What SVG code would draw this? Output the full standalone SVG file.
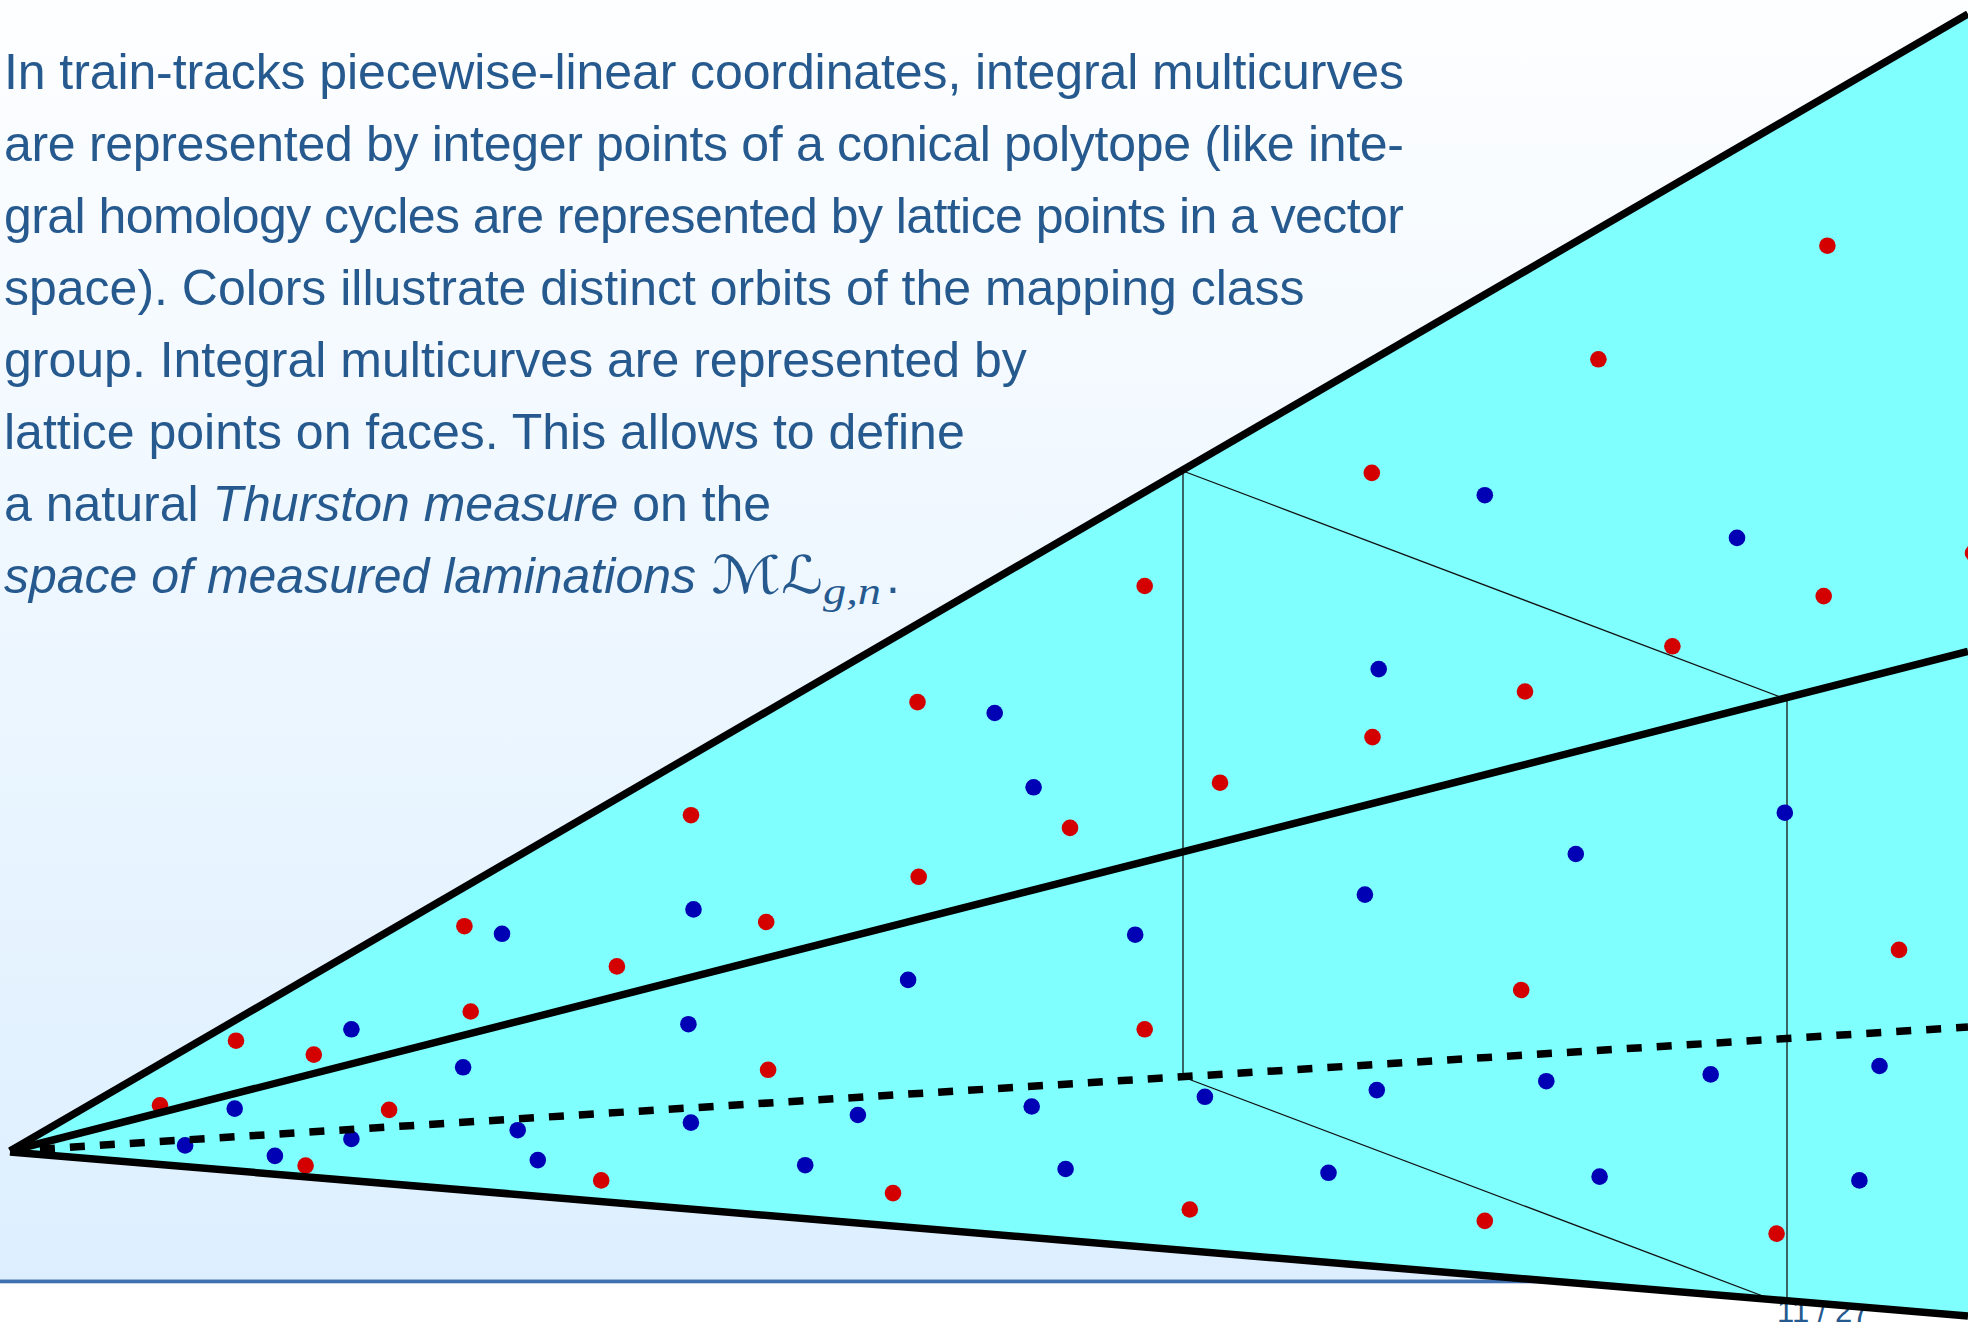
<svg xmlns="http://www.w3.org/2000/svg" width="1968" height="1324" viewBox="0 0 1968 1324">
<defs>
<linearGradient id="bg" x1="0" y1="0" x2="0" y2="1">
<stop offset="0" stop-color="#fdfeff"/>
<stop offset="1" stop-color="#ddefff"/>
</linearGradient>
<style>
.t{font-family:"Liberation Sans",Arial,sans-serif;font-size:50px;fill:#265a8f}
.i{font-style:italic}
.r{fill:#d40000}
.b{fill:#0000b4}
.thick{stroke:#000;stroke-width:7.5;fill:none}
.dash{stroke:#000;stroke-width:7.5;fill:none;stroke-dasharray:15 15}
.thin{stroke:#111;stroke-width:1.3;fill:none}
</style>
</defs>
<g id="background">
<rect x="0" y="0" width="1968" height="1324" fill="#ffffff"/>
<rect x="0" y="0" width="1968" height="1279.5" fill="url(#bg)"/>
<rect x="0" y="1279.5" width="1968" height="3.8" fill="#3f70b0"/>
</g>
<g id="caption">
<text class="t" x="4" y="89" textLength="1400" lengthAdjust="spacing">In train-tracks piecewise-linear coordinates, integral multicurves</text>
<text class="t" x="4" y="161" textLength="1400" lengthAdjust="spacing">are represented by integer points of a conical polytope (like inte-</text>
<text class="t" x="4" y="233" textLength="1400" lengthAdjust="spacing">gral homology cycles are represented by lattice points in a vector</text>
<text class="t" x="4" y="305">space). Colors illustrate distinct orbits of the mapping class</text>
<text class="t" x="4" y="377">group. Integral multicurves are represented by</text>
<text class="t" x="4" y="449">lattice points on faces. This allows to define</text>
<text class="t" x="4" y="521">a natural <tspan class="i">Thurston measure</tspan> on the</text>
<text class="t i" x="4" y="593">space of measured laminations</text>
<text class="t" x="711" y="593" textLength="70" lengthAdjust="spacingAndGlyphs" style="font-family:'DejaVu Serif','DejaVu Sans',serif;font-style:italic;font-size:52px">ℳ</text>
<text class="t" x="781" y="593" textLength="42" lengthAdjust="spacingAndGlyphs" style="font-family:'DejaVu Serif','DejaVu Sans',serif;font-style:italic;font-size:52px">ℒ</text>
<text class="t" x="823" y="604" textLength="58" lengthAdjust="spacingAndGlyphs" style="font-family:'Liberation Serif','Times New Roman',serif;font-style:italic;font-size:38px">g,n</text>
<text class="t" x="886" y="593">.</text>
</g>
<g id="page-number">
<text class="t" x="1777" y="1322" style="font-size:31px">11 / 27</text>
</g>
<g id="cone">
<path d="M10,1151 L1968,14 L1968,1316 Z" fill="#80ffff"/>
</g>
<g id="connectors">
<path class="thin" d="M1183,471 L1183,1077"/>
<path class="thin" d="M1183,471 L1784,698.4"/>
<path class="thin" d="M1787,698 L1787,1301"/>
<path class="thin" d="M1183,1077 L1772,1299.5"/>
</g>
<g id="red-points">
<circle class="r" cx="917.5" cy="702.1" r="8.3"/>
<circle class="r" cx="691" cy="815.2" r="8.3"/>
<circle class="r" cx="918.7" cy="876.8" r="8.3"/>
<circle class="r" cx="464.4" cy="926.2" r="8.3"/>
<circle class="r" cx="766.2" cy="922" r="8.3"/>
<circle class="r" cx="616.9" cy="966.4" r="8.3"/>
<circle class="r" cx="470.7" cy="1011.5" r="8.3"/>
<circle class="r" cx="236" cy="1040.7" r="8.3"/>
<circle class="r" cx="313.8" cy="1054.6" r="8.3"/>
<circle class="r" cx="768.1" cy="1069.8" r="8.3"/>
<circle class="r" cx="160" cy="1105.3" r="8.3"/>
<circle class="r" cx="389.1" cy="1109.9" r="8.3"/>
<circle class="r" cx="305.6" cy="1165.6" r="8.3"/>
<circle class="r" cx="601.2" cy="1180.4" r="8.3"/>
<circle class="r" cx="893" cy="1193.1" r="8.3"/>
<circle class="r" cx="1672.4" cy="646.3" r="8.3"/>
<circle class="r" cx="1525" cy="691.5" r="8.3"/>
<circle class="r" cx="1372.5" cy="737.1" r="8.3"/>
<circle class="r" cx="1220" cy="782.7" r="8.3"/>
<circle class="r" cx="1070" cy="827.9" r="8.3"/>
<circle class="r" cx="1899" cy="949.9" r="8.3"/>
<circle class="r" cx="1521.2" cy="990" r="8.3"/>
<circle class="r" cx="1144.7" cy="1029.3" r="8.3"/>
<circle class="r" cx="1189.8" cy="1209.5" r="8.3"/>
<circle class="r" cx="1484.8" cy="1220.9" r="8.3"/>
<circle class="r" cx="1776.6" cy="1233.6" r="8.3"/>
<circle class="r" cx="1827.4" cy="245.7" r="8.3"/>
<circle class="r" cx="1598.4" cy="359.3" r="8.3"/>
<circle class="r" cx="1371.8" cy="472.9" r="8.3"/>
<circle class="r" cx="1144.7" cy="586" r="8.3"/>
<circle class="r" cx="1823.7" cy="596.1" r="8.3"/>
<circle class="r" cx="1973" cy="553" r="8.3"/>
</g>
<g id="blue-points">
<circle class="b" cx="502" cy="933.8" r="8.3"/>
<circle class="b" cx="693.5" cy="909.4" r="8.3"/>
<circle class="b" cx="908.1" cy="979.9" r="8.3"/>
<circle class="b" cx="351.4" cy="1029.3" r="8.3"/>
<circle class="b" cx="688.4" cy="1024.2" r="8.3"/>
<circle class="b" cx="463.1" cy="1067.3" r="8.3"/>
<circle class="b" cx="234.7" cy="1108.6" r="8.3"/>
<circle class="b" cx="857.9" cy="1115" r="8.3"/>
<circle class="b" cx="690.9" cy="1122.6" r="8.3"/>
<circle class="b" cx="517.7" cy="1130.2" r="8.3"/>
<circle class="b" cx="351.4" cy="1139" r="8.3"/>
<circle class="b" cx="185.1" cy="1145.4" r="8.3"/>
<circle class="b" cx="274.9" cy="1155.9" r="8.3"/>
<circle class="b" cx="537.8" cy="1160.1" r="8.3"/>
<circle class="b" cx="805.2" cy="1165.2" r="8.3"/>
<circle class="b" cx="1378.7" cy="669.1" r="8.3"/>
<circle class="b" cx="994.7" cy="713" r="8.3"/>
<circle class="b" cx="1033.6" cy="787.3" r="8.3"/>
<circle class="b" cx="1784.8" cy="812.7" r="8.3"/>
<circle class="b" cx="1575.8" cy="854" r="8.3"/>
<circle class="b" cx="1364.9" cy="894.6" r="8.3"/>
<circle class="b" cx="1135.2" cy="934.7" r="8.3"/>
<circle class="b" cx="1879.5" cy="1066" r="8.3"/>
<circle class="b" cx="1710.7" cy="1074.4" r="8.3"/>
<circle class="b" cx="1546.3" cy="1081.2" r="8.3"/>
<circle class="b" cx="1376.8" cy="1090.1" r="8.3"/>
<circle class="b" cx="1204.9" cy="1096.8" r="8.3"/>
<circle class="b" cx="1031.7" cy="1106.5" r="8.3"/>
<circle class="b" cx="1065.6" cy="1169" r="8.3"/>
<circle class="b" cx="1328.5" cy="1172.8" r="8.3"/>
<circle class="b" cx="1599.6" cy="1176.6" r="8.3"/>
<circle class="b" cx="1859.4" cy="1180.4" r="8.3"/>
<circle class="b" cx="1484.8" cy="495.2" r="8.3"/>
<circle class="b" cx="1737" cy="537.9" r="8.3"/>
</g>
<g id="cone-edges">
<path class="thick" d="M10,1151 L1968,14"/>
<path class="thick" d="M10,1151 L1968,651.5"/>
<path class="dash" d="M10,1151 L1968,1027"/>
<path class="thick" d="M10,1152 L1968,1316"/>
</g>
</svg>
